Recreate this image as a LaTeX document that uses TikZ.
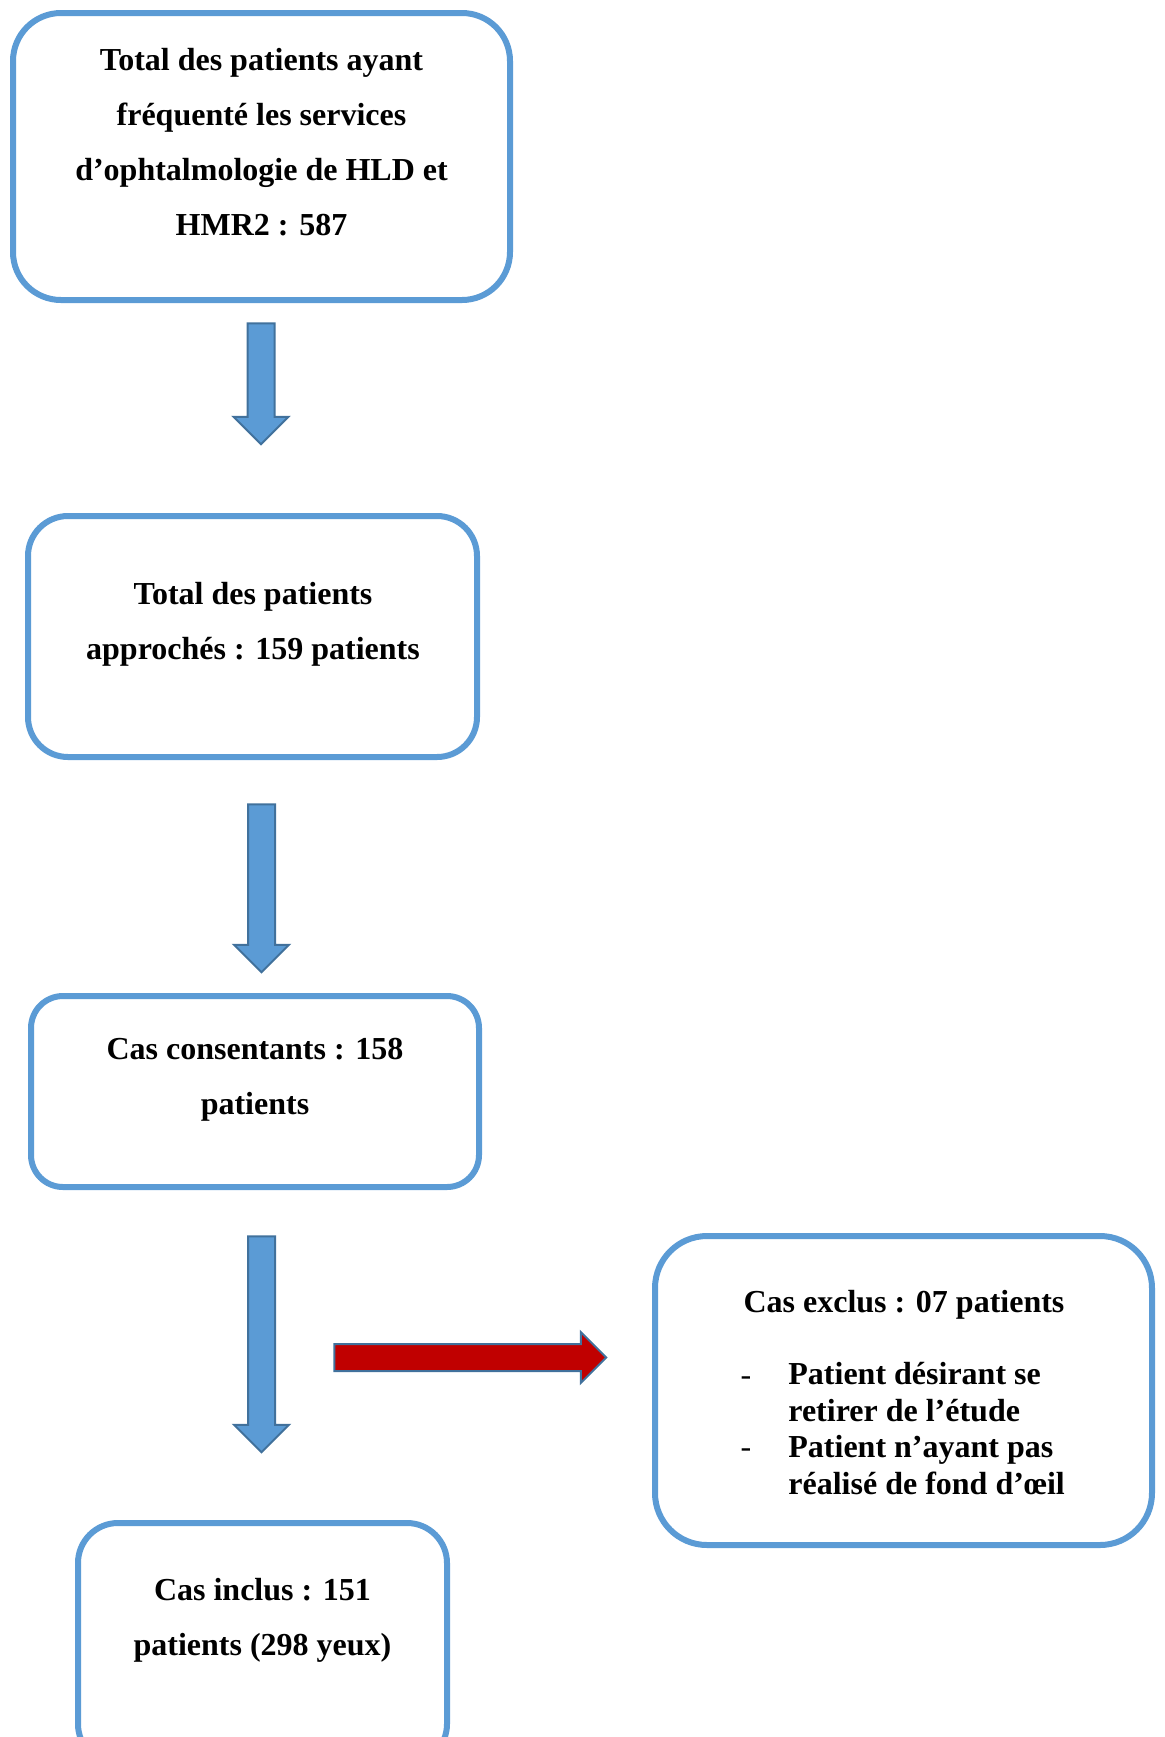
\documentclass[tikz,border=0pt]{standalone}
\usepackage{fontspec}
\setmainfont{Liberation Serif}
\usetikzlibrary{shapes.arrows}
\definecolor{boxblue}{HTML}{5B9BD5}
\definecolor{edgeblue}{HTML}{41719C}
\definecolor{exclred}{HTML}{C00000}
\tikzset{%
  flowbox/.style   = {shape=rectangle, draw=boxblue, line width=3pt,%
                      inner sep=0pt, fill=white},%
  boxtext/.style   = {align=center, anchor=base, inner sep=0pt,%
                      font=\fontsize{16}{27.5}\selectfont\bfseries},%
  listtext/.style  = {align=left, anchor=base west, inner sep=0pt,%
                      font=\fontsize{16}{18.3}\selectfont\bfseries},%
  blockarrow/.style = {single arrow, draw=edgeblue, line width=1pt,%
                      inner xsep=0pt, inner ysep=6.25pt},%
  downarrow/.style = {blockarrow, fill=boxblue, rotate=-90,%
                      single arrow head extend=7pt},%
  sidearrow/.style = {blockarrow, fill=exclred,%
                      single arrow head extend=6pt}%
}
\begin{document}
\begin{tikzpicture}[x=0.5pt,y=-0.5pt]
	\useasboundingbox (0,0) rectangle (1164,1737);
	\clip (0,0) rectangle (1164,1737);
	% boxes
	\node[flowbox, minimum width=248.5pt, minimum height=143.5pt, rounded corners=24pt] (total) at (261.5,156.5) {};
	\node[flowbox, minimum width=224.5pt, minimum height=120.5pt, rounded corners=20pt] (approche) at (252.5,636.5) {};
	\node[flowbox, minimum width=224pt, minimum height=95.5pt, rounded corners=16pt] (consent) at (255,1091.5) {};
	\node[flowbox, minimum width=184.5pt, minimum height=120.5pt, rounded corners=20pt] (inclus) at (262.5,1643.5) {};
	\node[flowbox, minimum width=248.5pt, minimum height=154.5pt, rounded corners=26pt] (exclus) at (903.5,1390.5) {};
	% texts (anchored on the last baseline)
	\node[boxtext] (totaltxt) at (261.5,235) {Total des patients ayant\\fréquenté les services\\d’ophtalmologie de HLD et\\HMR2 : 587};
	\node[boxtext] (approchetxt) at (253,659) {Total des patients\\approchés : 159 patients};
	\node[boxtext] (consenttxt) at (255,1114) {Cas consentants : 158\\patients};
	\node[boxtext] (inclustxt) at (262.5,1655) {Cas inclus : 151\\patients (298 yeux)};
	\node[boxtext] (exclustxt) at (904,1312) {Cas exclus : 07 patients};
	\node[listtext, anchor=base, font=\fontsize{16}{18.3}\selectfont] (dashone) at (746,1385) {-};
	\node[listtext, anchor=base, font=\fontsize{16}{18.3}\selectfont] (dashtwo) at (746,1457) {-};
	\node[listtext] (motifone) at (788,1421) {Patient désirant se\\retirer de l’étude};
	\node[listtext] (motiftwo) at (788,1494) {Patient n’ayant pas\\réalisé de fond d’œil};
	% arrows
	\node[downarrow, minimum height=60.5pt] (aone) at (261,377) {};
	\node[downarrow, minimum height=84pt] (atwo) at (261.5,881.5) {};
	\node[downarrow, minimum height=108pt] (athree) at (261.5,1337.5) {};
	\node[sidearrow, minimum height=136pt] (aexcl) at (463.5,1357.5) {};
\end{tikzpicture}
\end{document}
